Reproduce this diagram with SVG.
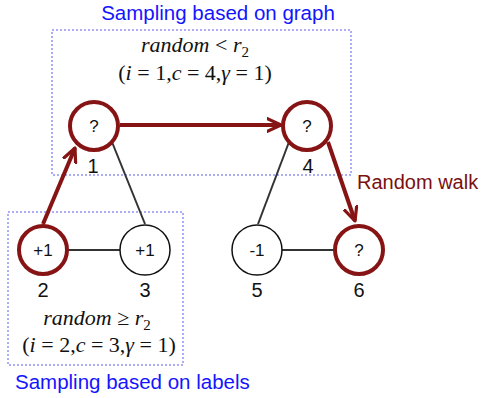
<svg xmlns="http://www.w3.org/2000/svg" width="482" height="398" viewBox="0 0 482 398">
<style>
.box{fill:none;stroke:#5a5af0;stroke-width:1;stroke-dasharray:2,2}
.hot{fill:#fff;stroke:#861414;stroke-width:4}
.cold{fill:#fff;stroke:#111;stroke-width:1.5}
.in{font-family:"Liberation Sans",Arial,sans-serif;font-size:17px;fill:#111;text-anchor:middle}
.num{font-family:"Liberation Sans",Arial,sans-serif;font-size:20px;fill:#111;text-anchor:middle}
.blue{font-family:"Liberation Sans",Arial,sans-serif;font-size:20.5px;fill:#1414ff}
.math{font-family:"Liberation Serif","Times New Roman",serif;font-size:22px;fill:#111;text-anchor:middle}
.thin{stroke:#333;stroke-width:2;fill:none}
.walk{stroke:#861414;stroke-width:4;fill:none;marker-end:url(#ah)}
</style>
<defs>
<marker id="ah" viewBox="0 0 10 10" refX="9" refY="5" markerWidth="4" markerHeight="4" orient="auto" markerUnits="strokeWidth">
<polyline points="0.5,1 9,5 0.5,9" fill="none" stroke="#861414" stroke-width="2" stroke-linecap="round" stroke-linejoin="round"/>
</marker>
</defs>
<rect class="box" x="52" y="30" width="299" height="145"/>
<rect class="box" x="8" y="212" width="175" height="153"/>
<text class="blue" x="218" y="20" text-anchor="middle">Sampling based on graph</text>
<text class="blue" x="15" y="389">Sampling based on labels</text>
<text x="357" y="189" font-family="Liberation Sans,Arial,sans-serif" font-size="20" fill="#7a1010">Random walk</text>
<text class="math" x="195" y="52"><tspan font-style="italic">random</tspan> &lt; <tspan font-style="italic">r</tspan><tspan font-size="15" dy="5">2</tspan></text>
<text class="math" x="195" y="80">(<tspan font-style="italic">i</tspan> = 1,<tspan font-style="italic">c</tspan> = 4,<tspan font-style="italic">γ</tspan> = 1)</text>
<text class="math" x="97" y="325"><tspan font-style="italic">random</tspan> ≥ <tspan font-style="italic">r</tspan><tspan font-size="15" dy="5">2</tspan></text>
<text class="math" x="99" y="352">(<tspan font-style="italic">i</tspan> = 2,<tspan font-style="italic">c</tspan> = 3,<tspan font-style="italic">γ</tspan> = 1)</text>
<g id="connectors">
<line class="thin" x1="112" y1="142" x2="145" y2="224"/>
<line class="thin" x1="289" y1="142" x2="258" y2="224"/>
<line class="thin" x1="68" y1="250" x2="120" y2="250"/>
<line class="thin" x1="282" y1="250" x2="334" y2="250"/>
<line class="walk" x1="120" y1="125" x2="281" y2="125"/>
<line class="walk" x1="43" y1="224" x2="75" y2="148"/>
<line class="walk" x1="328" y1="142" x2="355" y2="221"/>
</g>
<g id="node1"><circle class="hot" cx="94" cy="126" r="24"/><text class="in" x="94" y="132">?</text><text class="num" x="93" y="173">1</text></g>
<g id="node4"><circle class="hot" cx="307" cy="126" r="24"/><text class="in" x="307" y="132">?</text><text class="num" x="308" y="173">4</text></g>
<g id="node2"><circle class="hot" cx="43" cy="250" r="24"/><text class="in" x="43" y="256">+1</text><text class="num" x="43" y="297">2</text></g>
<g id="node3"><circle class="cold" cx="145" cy="250" r="25"/><text class="in" x="145" y="256">+1</text><text class="num" x="145" y="297">3</text></g>
<g id="node5"><circle class="cold" cx="257" cy="250" r="25"/><text class="in" x="257" y="256">-1</text><text class="num" x="257" y="297">5</text></g>
<g id="node6"><circle class="hot" cx="359" cy="250" r="24"/><text class="in" x="359" y="256">?</text><text class="num" x="359" y="297">6</text></g>
</svg>
